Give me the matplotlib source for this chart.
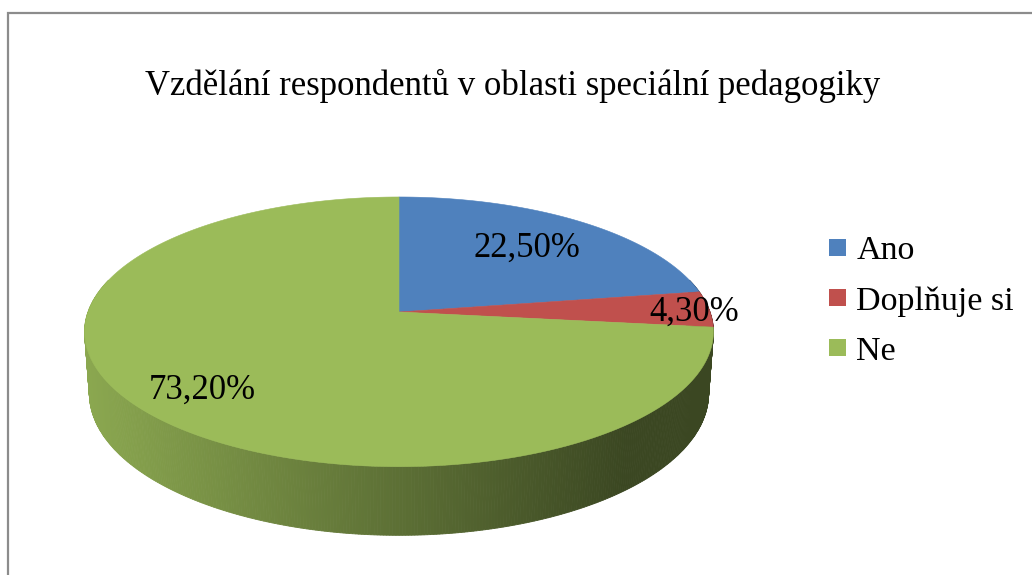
import numpy as np
import matplotlib
matplotlib.use("Agg")
import matplotlib.pyplot as plt
from matplotlib.patches import Polygon, Patch
from matplotlib.lines import Line2D

# ---- data ----
title = "Vzdělání respondentů v oblasti speciální pedagogiky"
categories = ["Ano", "Doplňuje si", "Ne"]
values = [22.5, 4.3, 73.2]
value_labels = ["22,50%", "4,30%", "73,20%"]
colors = ["#4f81bd", "#c0504d", "#9bbb59"]

# ---- style / geometry ----
W, H = 1032, 575
FONT = "Liberation Serif"
cx, cy = 399.0, 312.0          # projected pie centre (pixels)
elev = np.radians(25.1)
Dcam = 6.16
Fcam = 311.0 * Dcam
depth_h = 0.22
label_r = [0.68, 0.95, 0.80]
label_da = [0.0, np.radians(1.5), np.radians(-1.5)]

fig = plt.figure(figsize=(W / 100, H / 100), dpi=100)
ax = fig.add_axes([0, 0, 1, 1])
ax.set_xlim(0, W)
ax.set_ylim(H, 0)
ax.axis("off")

se, ce = np.sin(elev), np.cos(elev)


def proj(X, Y, Z):
    X, Y, Z = np.asarray(X, float), np.asarray(Y, float), np.asarray(Z, float)
    yc = Y * se + Z * ce
    d = Dcam + Y * ce - Z * se
    return cx + Fcam * X / d, cy - Fcam * yc / d


fr = np.array(values) / np.sum(values)
bounds = np.concatenate([[0], np.cumsum(fr)]) * 2 * np.pi  # clockwise from top


def side_shade(x):
    t = np.clip((x - 84) / 540.0, 0, 1)
    return 0.90 - 0.52 * t


# side strips (front part only), back-to-front order
strips = []
for i, (a0, a1) in enumerate(zip(bounds[:-1], bounds[1:])):
    n = max(4, int((a1 - a0) / np.radians(0.5)))
    th = np.linspace(a0, a1, n + 1)
    for t0, t1 in zip(th[:-1], th[1:]):
        tm = 0.5 * (t0 + t1)
        if np.cos(tm) > 0.25:
            continue
        strips.append((-np.cos(tm), i, t0, t1))
strips.sort()
for _, i, t0, t1 in strips:
    Xs = np.sin([t0, t1, t1, t0])
    Ys = np.cos([t0, t1, t1, t0])
    Zs = np.array([0, 0, -depth_h, -depth_h])
    sx, sy = proj(Xs, Ys, Zs)
    base = np.array(matplotlib.colors.to_rgb(colors[i]))
    col = base * side_shade(sx.mean())
    ax.add_patch(Polygon(np.column_stack([sx, sy]), closed=True, fc=col,
                         ec=col, lw=0.6, antialiased=True))

# top faces
for i, (a0, a1) in enumerate(zip(bounds[:-1], bounds[1:])):
    th = np.linspace(a0, a1, 200)
    Xs = np.concatenate([[0], np.sin(th)])
    Ys = np.concatenate([[0], np.cos(th)])
    sx, sy = proj(Xs, Ys, np.zeros_like(Xs))
    ax.add_patch(Polygon(np.column_stack([sx, sy]), closed=True,
                         fc=colors[i], ec=colors[i], lw=0.4))

# value labels
for i, (a0, a1) in enumerate(zip(bounds[:-1], bounds[1:])):
    tm = 0.5 * (a0 + a1) + label_da[i]
    r = label_r[i]
    sx, sy = proj(r * np.sin(tm), r * np.cos(tm), 0.0)
    ax.text(sx, sy, value_labels[i], ha="center", va="center",
            fontsize=25, family=FONT, color="black")

# title
ax.text(513, 86, title, ha="center", va="center", fontsize=25, family=FONT)

# legend
handles = [Patch(fc=c, ec="none") for c in colors]
fig.legend(handles, categories, loc="upper left",
           bbox_to_anchor=(829 / W, 1 - 236 / H), frameon=False,
           prop={"family": FONT, "size": 24.5}, handlelength=0.5,
           handleheight=0.41, handletextpad=0.3, labelspacing=0.575,
           borderpad=0, borderaxespad=0)

# chart area border (top and left visible)
ax.add_line(Line2D([8, 8, W + 5], [H + 5, 12.5, 12.5], color="#8c8c8c",
                   lw=1.6, solid_joinstyle="miter"))

fig.savefig("out.png", dpi=100, facecolor="white")
